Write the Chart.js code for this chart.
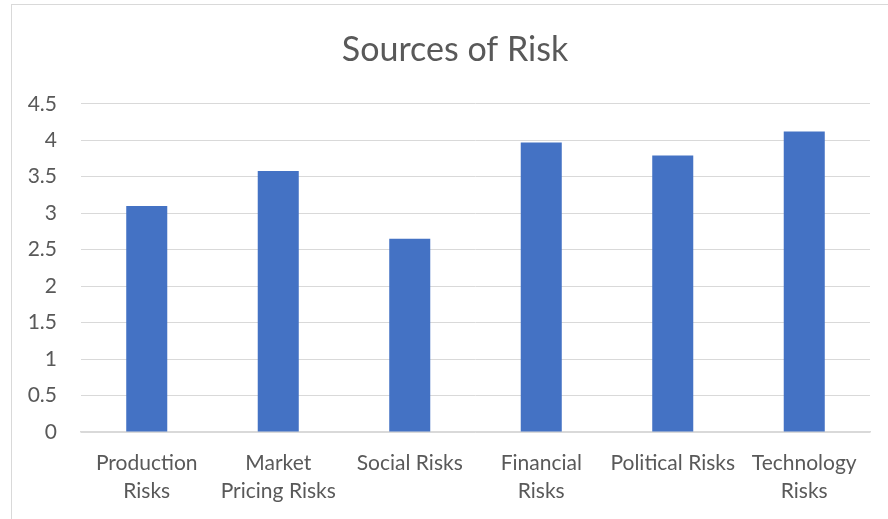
<!DOCTYPE html>
<html>
<head>
<meta charset="utf-8">
<script src="https://cdn.jsdelivr.net/npm/chart.js@4/dist/chart.umd.min.js"></script>
<style>
html,body{margin:0;padding:0;background:#fff;}
#wrap{position:relative;width:888px;height:519px;}
</style>
</head>
<body>
<div id="wrap"><canvas id="c" width="888" height="519"></canvas></div>
<script>
const categories = [
  ["Production", "Risks"],
  ["Market", "Pricing Risks"],
  "Social Risks",
  ["Financial", "Risks"],
  "Political Risks",
  ["Technology", "Risks"]
];
const values = [3.10, 3.58, 2.65, 3.97, 3.79, 4.12];
const chartTitle = "Sources of Risk";
const yMin = 0, yMax = 4.5, yStep = 0.5;

const FONT = "Lato, 'Open Sans', sans-serif";
const TXT = "#595959";
const GRID = "#d9d9d9";

const frame = {
  id: 'frame',
  beforeDraw(chart) {
    const ctx = chart.ctx;
    ctx.save();
    ctx.fillStyle = '#fff';
    ctx.fillRect(0, 0, chart.width, chart.height);
    ctx.strokeStyle = GRID;
    ctx.lineWidth = 1;
    ctx.strokeRect(11.5, 4.5, 1000, 1000);
    ctx.restore();
  },
  afterLayout(chart) {
    const t = chart.titleBlock;
    if (t) { t.left = 22; t.right = 888; t.width = 866; }
  }
};

new Chart(document.getElementById('c'), {
  type: 'bar',
  data: {
    labels: categories,
    datasets: [{
      data: values,
      backgroundColor: '#4472c4',
      borderWidth: 0,
      categoryPercentage: 1,
      barPercentage: 0.312
    }]
  },
  options: {
    responsive: false,
    animation: false,
    devicePixelRatio: 1,
    layout: { padding: { left: 0, right: 18, top: 0, bottom: 0 } },
    plugins: {
      legend: { display: false },
      tooltip: { enabled: false },
      title: {
        display: true,
        text: chartTitle,
        color: TXT,
        font: { family: FONT, size: 34, weight: 'normal', lineHeight: 1.2 },
        padding: { top: 30, bottom: 33 }
      }
    },
    scales: {
      x: {
        grid: { display: false, drawTicks: false },
        border: { display: true, color: GRID, width: 1.5 },
        ticks: {
          color: TXT,
          font: { family: FONT, size: 21, lineHeight: 1.33 },
          padding: 17,
          maxRotation: 0,
          autoSkip: false
        },
        afterFit(s) { s.height = 87; }
      },
      y: {
        min: yMin, max: yMax,
        grid: { color: GRID, lineWidth: 1, drawTicks: false },
        border: { display: false },
        ticks: {
          stepSize: yStep,
          color: TXT,
          font: { family: FONT, size: 21 },
          padding: 24,
          callback: v => String(v)
        },
        afterFit(s) { s.width = 81; }
      }
    }
  },
  plugins: [frame]
});
</script>
</body>
</html>
